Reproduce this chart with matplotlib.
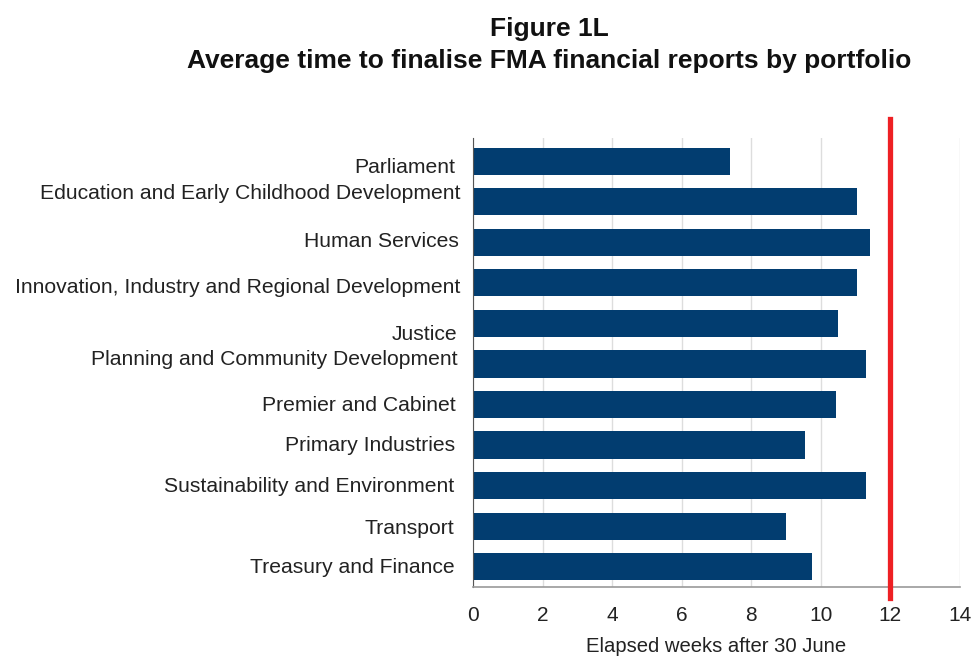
import matplotlib.pyplot as plt
from matplotlib.transforms import ScaledTranslation

plt.rcParams['font.family'] = ['Liberation Sans', 'DejaVu Sans']

# Average weeks to finalise financial reports, by portfolio
portfolios = [
    'Parliament',
    'Education and Early Childhood Development',
    'Human Services',
    'Innovation, Industry and Regional Development',
    'Justice',
    'Planning and Community Development',
    'Premier and Cabinet',
    'Primary Industries',
    'Sustainability and Environment',
    'Transport',
    'Treasury and Finance',
]
weeks = [7.4, 11.05, 11.4, 11.05, 10.5, 11.3, 10.45, 9.55, 11.3, 9.0, 9.75]
deadline = 12

# (dx, dy) nudges in pixels for the label text
label_nudge = [(-5, -4), (0, 10), (-2, 3), (0, -3), (-3, -9), (-3, 6),
               (-5, 1), (-5, 2), (-6, 1), (-6, 0), (-6, 1)]

fig = plt.figure(figsize=(9.76, 6.62), dpi=100)
ax = fig.add_axes([0.4846, 0.1133, 0.499, 0.6782])

ypos = list(range(len(portfolios)))
ax.barh(ypos, weeks, height=0.67, color='#023d70', zorder=2)
ax.axvline(deadline, ymin=-0.025, ymax=1.042, color='#ee2024', lw=3.8,
           clip_on=False, zorder=3)

ax.set_xlim(0, 14)
ax.set_ylim(len(portfolios) - 0.5, -0.57)
ax.set_xticks(range(0, 15, 2))
ax.set_yticks(ypos)
ax.set_yticklabels(portfolios)
ax.tick_params(axis='y', length=0, pad=9, labelsize=15.2, labelcolor='#222222')
ax.tick_params(axis='x', length=0, pad=14, labelsize=15, labelcolor='#222222')
for lbl, (dx, dy) in zip(ax.get_yticklabels(), label_nudge):
    lbl.set_transform(lbl.get_transform() +
                      ScaledTranslation(dx / 100, dy / 100, fig.dpi_scale_trans))

ax.grid(axis='x', color='#dddddd', lw=1, zorder=0)
for s in ['top', 'right']:
    ax.spines[s].set_visible(False)
ax.spines['left'].set_color('#555555')
ax.spines['bottom'].set_color('#999999')
ax.spines['bottom'].set_linewidth(1.2)

ax.set_xlabel('Elapsed weeks after 30 June', fontsize=14.6, color='#222222',
              labelpad=8)

fig.text(0.5625, 0.956, 'Figure 1L', ha='center', va='center',
         fontsize=19, fontweight='bold', color='#111111')
fig.text(0.5625, 0.908,
         'Average time to finalise FMA financial reports by portfolio',
         ha='center', va='center', fontsize=19, fontweight='bold',
         color='#111111')

fig.savefig('out.png', dpi=100)
